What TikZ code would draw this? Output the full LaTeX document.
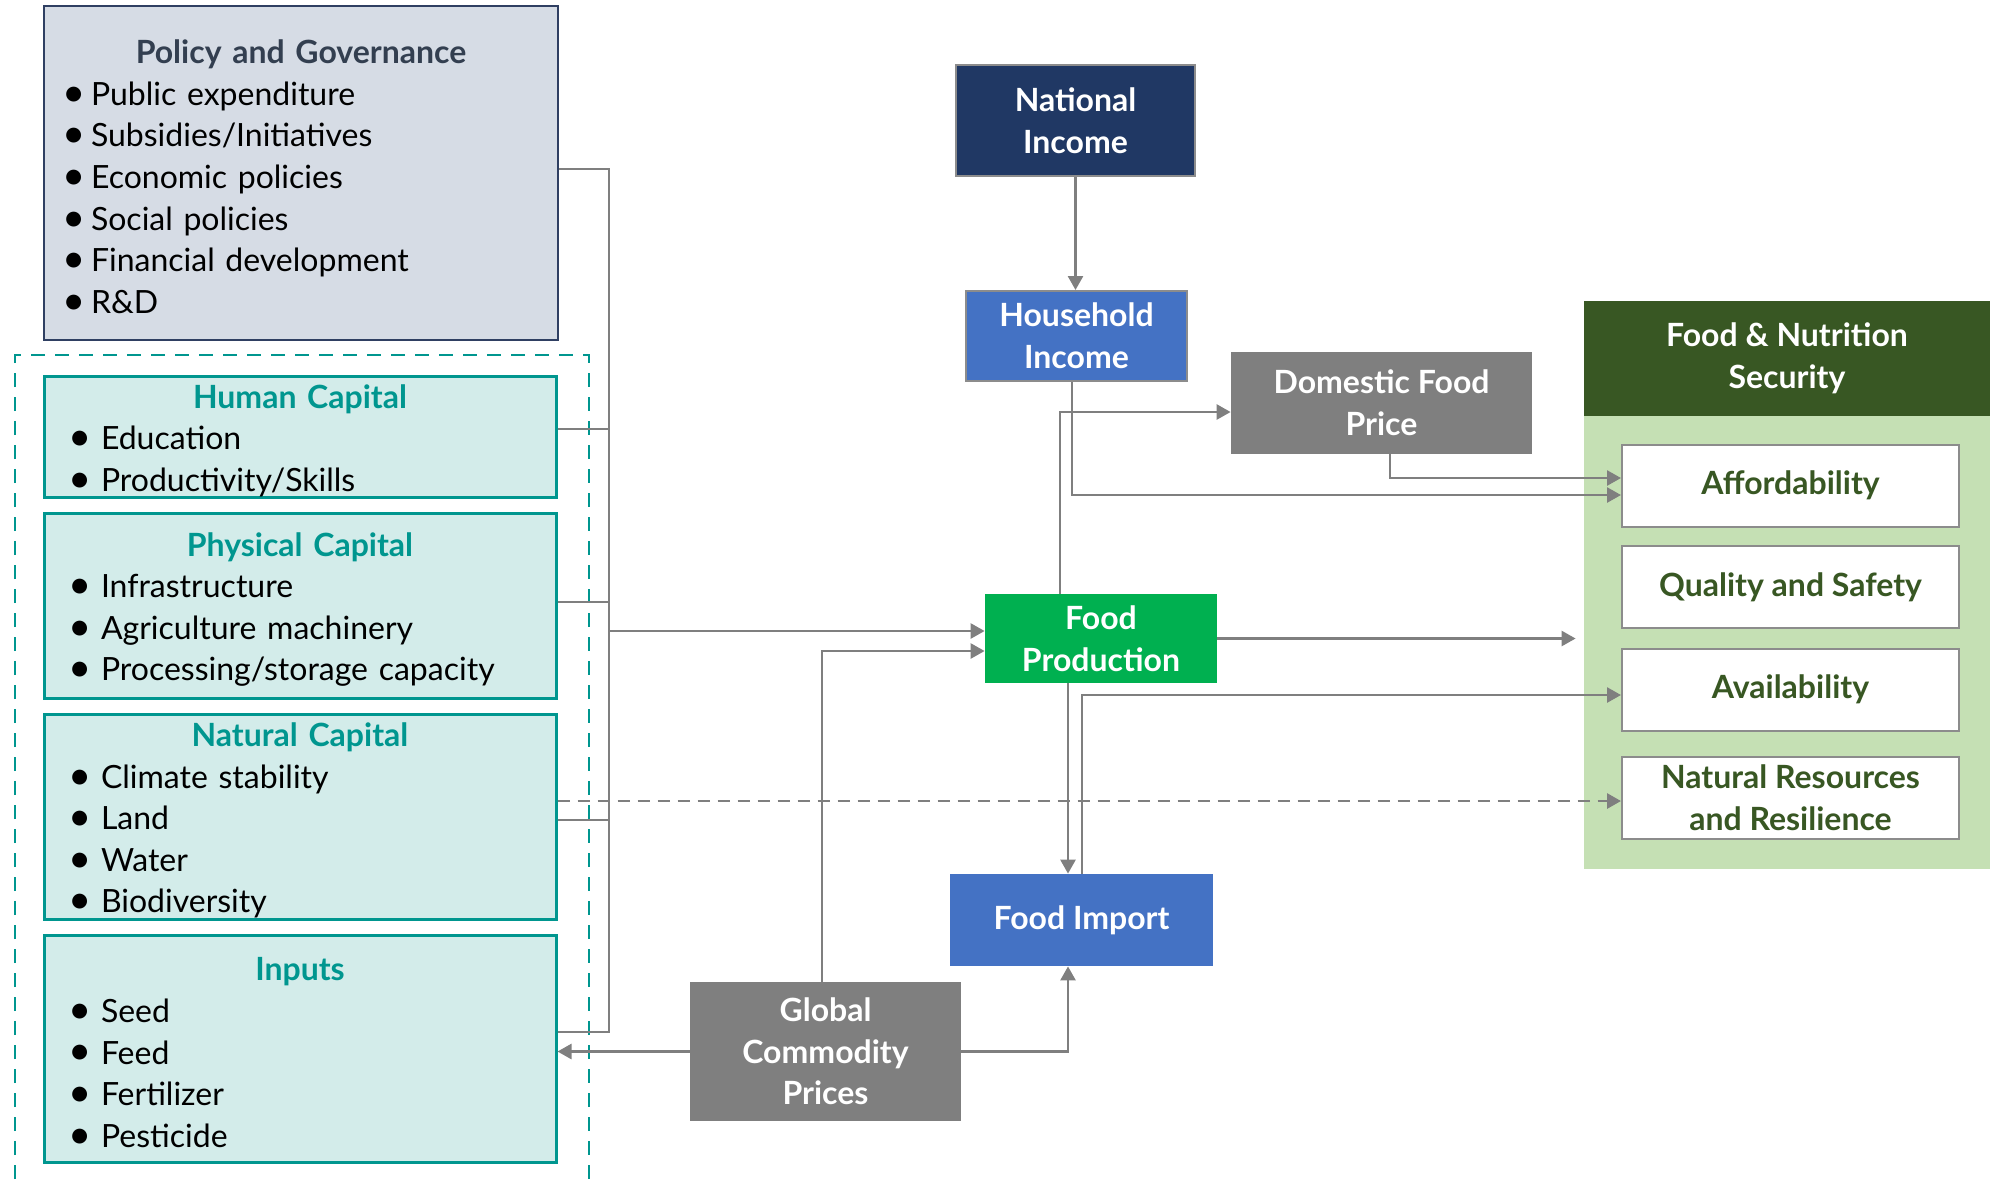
\documentclass[tikz,border=0pt]{standalone}
\usepackage{fontspec,graphicx}
\setmainfont{Lato}
\usetikzlibrary{arrows.meta}
\definecolor{navy}{HTML}{203864}
\definecolor{slate}{HTML}{333F50}
\definecolor{slateedge}{HTML}{2F3F62}
\definecolor{pale}{HTML}{D6DCE5}
\definecolor{teal}{HTML}{00968F}
\definecolor{aqua}{HTML}{D3ECEA}
\definecolor{midblue}{HTML}{4472C4}
\definecolor{leaf}{HTML}{00B050}
\definecolor{forest}{HTML}{385723}
\definecolor{sage}{HTML}{C5E0B4}
\definecolor{stone}{HTML}{7F7F7F}
\definecolor{edge}{HTML}{8C8C8C}
\newlength{\dotw}
\newcommand{\lbl}{\fontsize{16}{20.8}\selectfont}
\newcommand{\boxtitle}[2]{\hfill\rule{0pt}{16pt}{\bfseries\color{#1}#2}\hfill\null}
\newcommand{\itm}[1]{\makebox[\dotw][c]{\raisebox{-0.03em}{\scalebox{1.25}{\textbullet}}}#1}

\begin{document}
\begin{tikzpicture}[x=0.5pt,y=-0.5pt,every node/.style={font=\lbl},
  policybox/.style={draw=slateedge,fill=pale,line width=1.25pt,text width=244pt,inner xsep=6.5pt,inner ysep=0pt,align=left,
    execute at begin node={\setlength{\dotw}{17pt}}},
  capbox/.style={draw=teal,fill=aqua,line width=1.5pt,text width=241pt,inner xsep=7.5pt,inner ysep=0pt,align=left,
    execute at begin node={\setlength{\dotw}{21pt}}},
  block/.style={text=white,font=\lbl\bfseries,align=center,inner sep=0pt},
  goal/.style={draw=edge,fill=white,line width=1pt,text=forest,font=\lbl\bfseries,align=center,minimum width=168.5pt,minimum height=41pt},
  link/.style={draw=stone,line width=1.3pt,-{Triangle[length=7pt,width=7.5pt]}},
  feed/.style={draw=stone,line width=0.8pt}]
\useasboundingbox (0,0) rectangle (1990,1179);

% capitals frame
\draw[teal,line width=1.2pt,dash pattern=on 7pt off 5pt] (15,1179) |- (589,355) -- (589,1179);

% left column
\node[policybox,minimum height=167pt] (policy) at (301,173) {\boxtitle{slate}{Policy and Governance}\\
  \itm{Public expenditure}\\ \itm{Subsidies/Initiatives}\\ \itm{Economic policies}\\
  \itm{Social policies}\\ \itm{Financial development}\\ \itm{R\&D}};
\node[capbox,minimum height=60.5pt] (human) at (300,436.5) {\boxtitle{teal}{Human Capital}\\
  \itm{Education}\\ \itm{Productivity/Skills}};
\node[capbox,minimum height=92.5pt] (physical) at (300,605.5) {\boxtitle{teal}{Physical Capital}\\
  \itm{Infrastructure}\\ \itm{Agriculture machinery}\\ \itm{Processing/storage capacity}};
\node[capbox,minimum height=102.5pt] (natural) at (300,816.5) {\boxtitle{teal}{Natural Capital}\\
  \itm{Climate stability}\\ \itm{Land}\\ \itm{Water}\\ \itm{Biodiversity}};
\node[capbox,minimum height=113.5pt] (inputs) at (300,1048.5) {\boxtitle{teal}{Inputs}\\
  \itm{Seed}\\ \itm{Feed}\\ \itm{Fertilizer}\\ \itm{Pesticide}};

% middle blocks
\node[block,fill=navy,draw=edge,line width=1pt,minimum width=119.5pt,minimum height=55.5pt] (nat) at (1075.5,120.5) {National\\Income};
\node[block,fill=midblue,draw=edge,line width=1pt,minimum width=110.5pt,minimum height=45pt] (hh) at (1076.5,336) {Household\\Income};
\node[block,fill=stone,minimum width=150.5pt,minimum height=51pt] (dom) at (1381.5,403) {Domestic Food\\Price};
\node[block,fill=leaf,minimum width=116pt,minimum height=44.5pt] (prod) at (1101,638.5) {Food\\Production};
\node[block,fill=midblue,minimum width=131.5pt,minimum height=46pt] (imp) at (1081.5,920) {Food Import};
\node[block,fill=stone,minimum width=135.5pt,minimum height=69.5pt] (glob) at (825.5,1051.5) {Global\\Commodity\\Prices};

% outcomes
\node[block,fill=forest,minimum width=203pt,minimum height=57.5pt] (fnshead) at (1787,358.5) {Food \& Nutrition\\Security};
\node[fill=sage,inner sep=0pt,minimum width=203pt,minimum height=226.5pt] (panel) at (1787,642.5) {};
\node[goal] (afford) at (1790.5,485.5) {Affordability};
\node[goal] (quality) at (1790.5,587) {Quality and Safety};
\node[goal] (avail) at (1790.5,689.5) {Availability};
\node[goal] (natres) at (1790.5,798) {Natural Resources\\and Resilience};

% collector from the left column
\coordinate (bustop) at (609,169);
\coordinate (busend) at (609,1032);
\draw[feed] (policy.east |- bustop) -- (bustop) -- (busend) -- (inputs.east |- busend);
\foreach \b/\y in {human/429,physical/602,natural/820}{
  \coordinate (lvl) at (609,\y);
  \draw[feed] (\b.east |- lvl) -- (lvl);
}
\coordinate (tap) at (609,631);
\draw[link] (tap) -- (tap -| prod.west);

% turning points
\coordinate (hhturn) at (1072,495);
\coordinate (pturn) at (1060,412);
\coordinate (dturn) at (1390,478);
\coordinate (iturn) at (1068,800);
\coordinate (aturn) at (1082,695);
\coordinate (gturn) at (822,651);
\coordinate (nturn) at (1200,801);

\draw[link] (nat.south) -- (nat.south |- hh.north);
\draw[link] (hh.south -| hhturn) -- (hhturn) -- (hhturn -| afford.west);
\draw[link] (prod.north -| pturn) -- (pturn) -- (pturn -| dom.west);
\draw[link] (dom.south -| dturn) -- (dturn) -- (dturn -| afford.west);
\draw[link,shorten >=4pt] (prod.east) -- (prod.east -| panel.west);
\draw[link] (prod.south -| iturn) -- (imp.north -| iturn);
\draw[link] (imp.north -| aturn) -- (aturn) -- (aturn -| avail.west);
\draw[link] (glob.north -| gturn) -- (gturn) -- (gturn -| prod.west);
\draw[link] (glob.east) -| (imp.south -| iturn);
\draw[link] (glob.west) -- (glob.west -| inputs.east);
\draw[link,line width=1.4pt,dash pattern=on 6pt off 4pt] (natural.east |- nturn) -- (nturn -| natres.west);
\end{tikzpicture}
\end{document}
